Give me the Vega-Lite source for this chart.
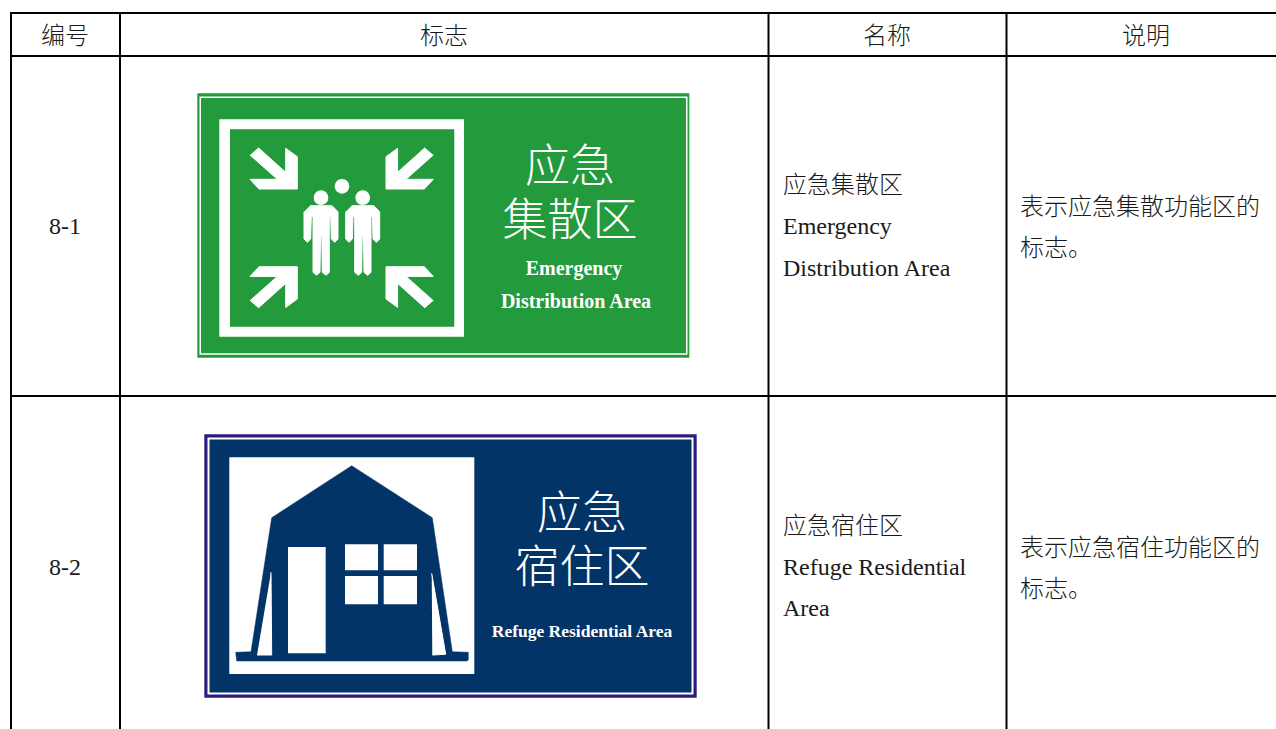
{"$schema":"https://vega.github.io/schema/vega-lite/v6.json","width":1276,"height":729,"padding":0,"autosize":{"type":"fit","contains":"padding"},"background":"white","config":{"view":{"stroke":null}},
"datasets":{
"panels":[
{"part":"green","x":197.3,"x2":689.3,"y":93.3,"y2":357.7},
{"part":"white","x":199.5,"x2":687.5,"y":96.5,"y2":354.8},
{"part":"green","x":201,"x2":686,"y":98,"y2":353.3},
{"part":"white","x":219.3,"x2":464,"y":119.3,"y2":336.7},
{"part":"green","x":230,"x2":454.3,"y":129.3,"y2":326.7},
{"part":"purple","x":204.3,"x2":696.7,"y":434.3,"y2":697.7},
{"part":"white","x":207.5,"x2":693.5,"y":437.5,"y2":694.5},
{"part":"navy","x":209.5,"x2":691.5,"y":439.5,"y2":692.5},
{"part":"white","x":229.3,"x2":474.3,"y":457.3,"y2":674}
],
"tent":[
{"i":0,"x":351.7,"y":465.7},{"i":1,"x":432.3,"y":517.7},{"i":2,"x":452.3,"y":651.7},{"i":3,"x":468.3,"y":652.3},{"i":4,"x":468.3,"y":660},{"i":5,"x":466.7,"y":661},{"i":6,"x":236.7,"y":661},{"i":7,"x":235.7,"y":652.3},{"i":8,"x":251,"y":651.7},{"i":9,"x":271.7,"y":517.7},{"i":10,"x":351.7,"y":465.7}
],
"shapes":[
{"s":"tl","i":0,"x":258.3,"y":147.7},{"s":"tl","i":1,"x":285.7,"y":172.3},{"s":"tl","i":2,"x":285.7,"y":148.3},{"s":"tl","i":3,"x":297.3,"y":156.7},{"s":"tl","i":4,"x":297.3,"y":189},{"s":"tl","i":5,"x":259,"y":189},{"s":"tl","i":6,"x":250,"y":179.3},{"s":"tl","i":7,"x":277.3,"y":179.3},{"s":"tl","i":8,"x":250,"y":155},
{"s":"tr","i":0,"x":425,"y":147.7},{"s":"tr","i":1,"x":397.6,"y":172.3},{"s":"tr","i":2,"x":397.6,"y":148.3},{"s":"tr","i":3,"x":386,"y":156.7},{"s":"tr","i":4,"x":386,"y":189},{"s":"tr","i":5,"x":424.3,"y":189},{"s":"tr","i":6,"x":433.3,"y":179.3},{"s":"tr","i":7,"x":406,"y":179.3},{"s":"tr","i":8,"x":433.3,"y":155},
{"s":"bl","i":0,"x":258.3,"y":308},{"s":"bl","i":1,"x":285.7,"y":283.4},{"s":"bl","i":2,"x":285.7,"y":307.4},{"s":"bl","i":3,"x":297.3,"y":299},{"s":"bl","i":4,"x":297.3,"y":266.7},{"s":"bl","i":5,"x":259,"y":266.7},{"s":"bl","i":6,"x":250,"y":276.4},{"s":"bl","i":7,"x":277.3,"y":276.4},{"s":"bl","i":8,"x":250,"y":300.7},
{"s":"br","i":0,"x":425,"y":308},{"s":"br","i":1,"x":397.6,"y":283.4},{"s":"br","i":2,"x":397.6,"y":307.4},{"s":"br","i":3,"x":386,"y":299},{"s":"br","i":4,"x":386,"y":266.7},{"s":"br","i":5,"x":424.3,"y":266.7},{"s":"br","i":6,"x":433.3,"y":276.4},{"s":"br","i":7,"x":406,"y":276.4},{"s":"br","i":8,"x":433.3,"y":300.7},
{"s":"p1","i":0,"x":310,"y":205.7},{"s":"p1","i":1,"x":332,"y":205.7},{"s":"p1","i":2,"x":338,"y":211.7},{"s":"p1","i":3,"x":338,"y":239},{"s":"p1","i":4,"x":334.7,"y":242.3},{"s":"p1","i":5,"x":331.3,"y":239},{"s":"p1","i":6,"x":330.7,"y":216.7},{"s":"p1","i":7,"x":329.3,"y":216.7},{"s":"p1","i":8,"x":329.3,"y":272.3},{"s":"p1","i":9,"x":326,"y":275.3},{"s":"p1","i":10,"x":322.3,"y":272.3},{"s":"p1","i":11,"x":321.8,"y":236.7},{"s":"p1","i":12,"x":320.5,"y":236.7},{"s":"p1","i":13,"x":320,"y":272.3},{"s":"p1","i":14,"x":316.7,"y":275.3},{"s":"p1","i":15,"x":313,"y":272.3},{"s":"p1","i":16,"x":313,"y":216.7},{"s":"p1","i":17,"x":311.3,"y":216.7},{"s":"p1","i":18,"x":310.7,"y":239},{"s":"p1","i":19,"x":307.3,"y":242.3},{"s":"p1","i":20,"x":304,"y":239},{"s":"p1","i":21,"x":304,"y":211.7},
{"s":"p2","i":0,"x":351.7,"y":205.7},{"s":"p2","i":1,"x":373.7,"y":205.7},{"s":"p2","i":2,"x":379.7,"y":211.7},{"s":"p2","i":3,"x":379.7,"y":239},{"s":"p2","i":4,"x":376.4,"y":242.3},{"s":"p2","i":5,"x":373,"y":239},{"s":"p2","i":6,"x":372.4,"y":216.7},{"s":"p2","i":7,"x":371,"y":216.7},{"s":"p2","i":8,"x":371,"y":272.3},{"s":"p2","i":9,"x":367.7,"y":275.3},{"s":"p2","i":10,"x":364,"y":272.3},{"s":"p2","i":11,"x":363.5,"y":236.7},{"s":"p2","i":12,"x":362.2,"y":236.7},{"s":"p2","i":13,"x":361.7,"y":272.3},{"s":"p2","i":14,"x":358.4,"y":275.3},{"s":"p2","i":15,"x":354.7,"y":272.3},{"s":"p2","i":16,"x":354.7,"y":216.7},{"s":"p2","i":17,"x":353,"y":216.7},{"s":"p2","i":18,"x":352.4,"y":239},{"s":"p2","i":19,"x":349,"y":242.3},{"s":"p2","i":20,"x":345.7,"y":239},{"s":"p2","i":21,"x":345.7,"y":211.7},
{"s":"t1","i":0,"x":271,"y":572.3},{"s":"t1","i":1,"x":271.7,"y":655},{"s":"t1","i":2,"x":257,"y":655},
{"s":"t2","i":0,"x":431.7,"y":573.3},{"s":"t2","i":1,"x":445.7,"y":654.3},{"s":"t2","i":2,"x":432.3,"y":655}
],
"openings":[
{"x":288,"x2":325.7,"y":547,"y2":653.3},
{"x":345,"x2":378,"y":544.3,"y2":570.3},
{"x":383.7,"x2":417,"y":544.3,"y2":570.3},
{"x":345,"x2":378,"y":576,"y2":604.3},
{"x":383.7,"x2":417,"y":576,"y2":604.3}
],
"heads":[{"x":321,"y":197.7},{"x":362.7,"y":197.7},{"x":342,"y":186.3}],
"grid":[
{"x":11,"x2":11,"y":13,"y2":729},
{"x":120,"x2":120,"y":13,"y2":729},
{"x":768.5,"x2":768.5,"y":13,"y2":729},
{"x":1006.5,"x2":1006.5,"y":13,"y2":729},
{"x":10,"x2":1276,"y":13,"y2":13},
{"x":10,"x2":1276,"y":56,"y2":56},
{"x":10,"x2":1276,"y":396,"y2":396}
],
"cellsCentered":[
{"t":"编号","x":65,"y":36.5},{"t":"标志","x":444,"y":36.5},{"t":"名称","x":887,"y":36.5},{"t":"说明","x":1146,"y":36.5},
{"t":"8-1","x":65,"y":227},{"t":"8-2","x":65,"y":568}
],
"cellsLeft":[
{"t":"应急集散区","x":783,"y":186},{"t":"Emergency","x":783,"y":227},{"t":"Distribution Area","x":783,"y":269},
{"t":"表示应急集散功能区的","x":1020,"y":208},{"t":"标志。","x":1020,"y":249},
{"t":"应急宿住区","x":783,"y":527},{"t":"Refuge Residential","x":783,"y":568},{"t":"Area","x":783,"y":609},
{"t":"表示应急宿住功能区的","x":1020,"y":549},{"t":"标志。","x":1020,"y":590}
],
"signBig":[
{"t":"应急","x":570,"y":168},{"t":"集散区","x":570,"y":221.5},
{"t":"应急","x":582,"y":515},{"t":"宿住区","x":582,"y":568.5}
],
"signSmall":[
{"t":"Emergency","x":574,"y":268.5},{"t":"Distribution Area","x":576,"y":302}
],
"signSmall2":[
{"t":"Refuge Residential Area","x":582,"y":632}
]
},
"encoding":{
"x":{"field":"x","type":"quantitative","axis":null,"scale":{"domain":[0,1276],"range":[0,1276],"nice":false,"zero":false}},
"y":{"field":"y","type":"quantitative","axis":null,"scale":{"domain":[0,729],"range":[0,729],"nice":false,"zero":false}}
},
"layer":[
{"data":{"name":"panels"},"mark":{"type":"rect"},"encoding":{"x2":{"field":"x2"},"y2":{"field":"y2"},"color":{"field":"part","type":"nominal","legend":null,"scale":{"domain":["green","navy","purple","white"],"range":["#239B3D","#023468","#2C1C7C","#FFFFFF"]}}}},
{"data":{"name":"tent"},"mark":{"type":"line","fill":"#023468","stroke":"#023468","strokeWidth":0.5,"interpolate":"linear"},"encoding":{"order":{"field":"i","type":"quantitative"}}},
{"data":{"name":"shapes"},"mark":{"type":"line","fill":"#FFFFFF","stroke":"#FFFFFF","strokeWidth":1,"strokeJoin":"round","interpolate":"linear"},"encoding":{"detail":{"field":"s","type":"nominal"},"order":{"field":"i","type":"quantitative"}}},
{"data":{"name":"openings"},"mark":{"type":"rect","fill":"#FFFFFF"},"encoding":{"x2":{"field":"x2"},"y2":{"field":"y2"}}},
{"data":{"name":"heads"},"mark":{"type":"point","shape":"circle","filled":true,"fill":"#FFFFFF","opacity":1,"size":215,"stroke":null}},
{"data":{"name":"grid"},"mark":{"type":"rule","stroke":"#000000","strokeWidth":2},"encoding":{"x2":{"field":"x2"},"y2":{"field":"y2"}}},
{"data":{"name":"cellsCentered"},"mark":{"type":"text","align":"center","baseline":"middle","font":"Liberation Serif, Noto Sans CJK SC","fontSize":24,"fontWeight":300,"fill":"#1a1a1a"},"encoding":{"text":{"field":"t"}}},
{"data":{"name":"cellsLeft"},"mark":{"type":"text","align":"left","baseline":"middle","font":"Liberation Serif, Noto Sans CJK SC","fontSize":24,"fontWeight":300,"fill":"#1a1a1a"},"encoding":{"text":{"field":"t"}}},
{"data":{"name":"signBig"},"mark":{"type":"text","align":"center","baseline":"middle","font":"Noto Sans CJK SC","fontSize":45,"fontWeight":300,"fill":"#FFFFFF"},"encoding":{"text":{"field":"t"}}},
{"data":{"name":"signSmall"},"mark":{"type":"text","align":"center","baseline":"middle","font":"Liberation Serif","fontSize":20,"fontWeight":"bold","fill":"#FFFFFF"},"encoding":{"text":{"field":"t"}}},
{"data":{"name":"signSmall2"},"mark":{"type":"text","align":"center","baseline":"middle","font":"Liberation Serif","fontSize":17.5,"fontWeight":"bold","fill":"#FFFFFF"},"encoding":{"text":{"field":"t"}}}
]}
